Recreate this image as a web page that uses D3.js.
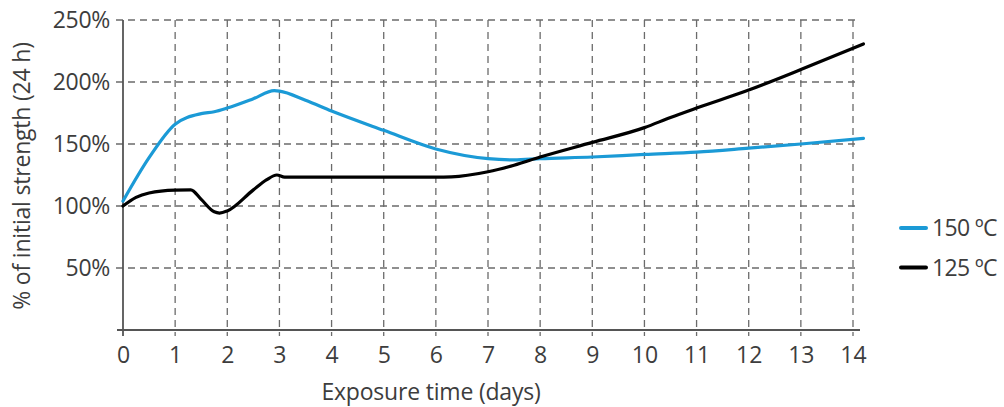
<!DOCTYPE html>
<html>
<head>
<meta charset="utf-8">
<script src="https://cdn.jsdelivr.net/npm/d3@7"></script>
<style>
  html, body { margin: 0; padding: 0; background: #fff; }
  svg { display: block; font-family: "Open Sans", sans-serif; }
</style>
</head>
<body>
<div id="app"></div>
<script>
// exposure time in days
const days150 = [0, 0.5, 1, 1.5, 1.75, 2, 2.5, 2.9, 3, 3.5, 4, 5, 6, 7, 7.5, 8, 9, 10, 11, 12, 13, 14.2];
const strength150 = [104, 139, 166, 174.5, 176, 179, 186.5, 193, 192.7, 185.3, 176.6, 161, 146, 138.2, 137.2, 138.2, 139.5, 141.6, 143.4, 146.6, 150, 154.6];

const days125 = [0, 0.25, 0.5, 1, 1.3, 1.5, 1.75, 1.85, 2, 2.5, 2.75, 2.95, 3.1, 4, 5, 6, 6.3, 7, 7.5, 8, 9, 10, 10.5, 11, 12, 13, 14.2];
const strength125 = [100, 107, 110.5, 112.8, 113, 105.3, 95.3, 94.3, 96, 113, 121, 125, 123.3, 123.3, 123.3, 123.3, 123.5, 127.6, 132.9, 139.5, 151.3, 163.2, 171.4, 179, 193.5, 210, 230.7];

const xTicks = d3.range(0, 15);
const yTicks = [50, 100, 150, 200, 250];

const series = [
  { name: "150 ºC", color: "#1b9ad6", x: days150, y: strength150 },
  { name: "125 ºC", color: "#000000", x: days125, y: strength125 }
];

const w = 1004;
const h = 407;
const mLeft = 123, mRight = 853, mTop = 20, mBottom = 330;
const fontSize = 23;
const textColor = "#3d3d3d";

const svg = d3.select("#app").append("svg").attr("width", w).attr("height", h);

const xScale = d3.scaleLinear().domain([0, 14]).range([mLeft, mRight]);
const yScale = d3.scaleLinear().domain([0, 250]).range([mBottom, mTop]);

//grid
const grid = svg.append("g").attr("stroke", "#6b6b6b").attr("stroke-width", 1.3).attr("stroke-dasharray", "7,5");
grid.selectAll(".hg")
  .data(yTicks)
  .enter()
  .append("line")
  .attr("x1", mLeft - 7)
  .attr("x2", mRight + 7)
  .attr("y1", (d) => yScale(d))
  .attr("y2", (d) => yScale(d));
grid.selectAll(".vg")
  .data(xTicks.slice(1))
  .enter()
  .append("line")
  .attr("x1", (d) => xScale(d))
  .attr("x2", (d) => xScale(d))
  .attr("y1", mTop)
  .attr("y2", mBottom + 6);

//x-axis
const xAxis = d3.axisBottom(xScale).tickValues(xTicks).tickSize(0).tickPadding(17);
const gx = svg.append("g").attr("transform", `translate(0,${mBottom})`).call(xAxis);
gx.select(".domain").remove();
gx.append("line").attr("x1", mLeft - 6).attr("x2", mRight + 7).attr("stroke", "#555").attr("stroke-width", 1.8);
gx.append("line").attr("x1", mLeft).attr("x2", mLeft).attr("y1", 0).attr("y2", 6).attr("stroke", "#555").attr("stroke-width", 1.8);
gx.selectAll("text").attr("font-size", fontSize).attr("fill", textColor).attr("font-family", "Open Sans");

//y-axis
const yAxis = d3.axisLeft(yScale).tickValues(yTicks).tickSize(0).tickPadding(13).tickFormat((d) => d + "%");
const gy = svg.append("g").attr("transform", `translate(${mLeft},0)`).call(yAxis);
gy.select(".domain").remove();
gy.append("line").attr("y1", mTop).attr("y2", mBottom).attr("stroke", "#555").attr("stroke-width", 1.8);
gy.selectAll("text").attr("font-size", fontSize).attr("fill", textColor).attr("font-family", "Open Sans").attr("letter-spacing", -0.3);

//lines
const line = d3.line()
  .x((d) => xScale(d[0]))
  .y((d) => yScale(d[1]))
  .curve(d3.curveMonotoneX);

series.forEach((s) => {
  svg.append("path")
    .datum(s.x.map((d, i) => [d, s.y[i]]))
    .attr("fill", "none")
    .attr("stroke", s.color)
    .attr("stroke-width", 3.2)
    .attr("stroke-linecap", "round")
    .attr("d", line);
});

//axis titles
svg.append("text")
  .attr("x", 431)
  .attr("y", 400)
  .attr("text-anchor", "middle")
  .attr("font-size", fontSize)
  .attr("fill", textColor)
  .attr("letter-spacing", -0.2)
  .text("Exposure time (days)");

svg.append("text")
  .attr("transform", "translate(30,176) rotate(-90)")
  .attr("text-anchor", "middle")
  .attr("font-size", fontSize)
  .attr("fill", textColor)
  .attr("letter-spacing", -0.2)
  .text("% of initial strength (24 h)");

//legend
const legend = svg.append("g").attr("transform", "translate(901,228)");
const items = legend.selectAll("g")
  .data(series)
  .enter()
  .append("g")
  .attr("transform", (d, i) => `translate(0,${i * 39.5})`);
items.append("line")
  .attr("x1", 0)
  .attr("x2", 25)
  .attr("stroke", (d) => d.color)
  .attr("stroke-width", 4)
  .attr("stroke-linecap", "round");
items.append("text")
  .attr("x", 31)
  .attr("dy", "0.36em")
  .attr("font-size", fontSize)
  .attr("fill", textColor)
  .attr("letter-spacing", -0.6)
  .text((d) => d.name);
</script>
</body>
</html>
